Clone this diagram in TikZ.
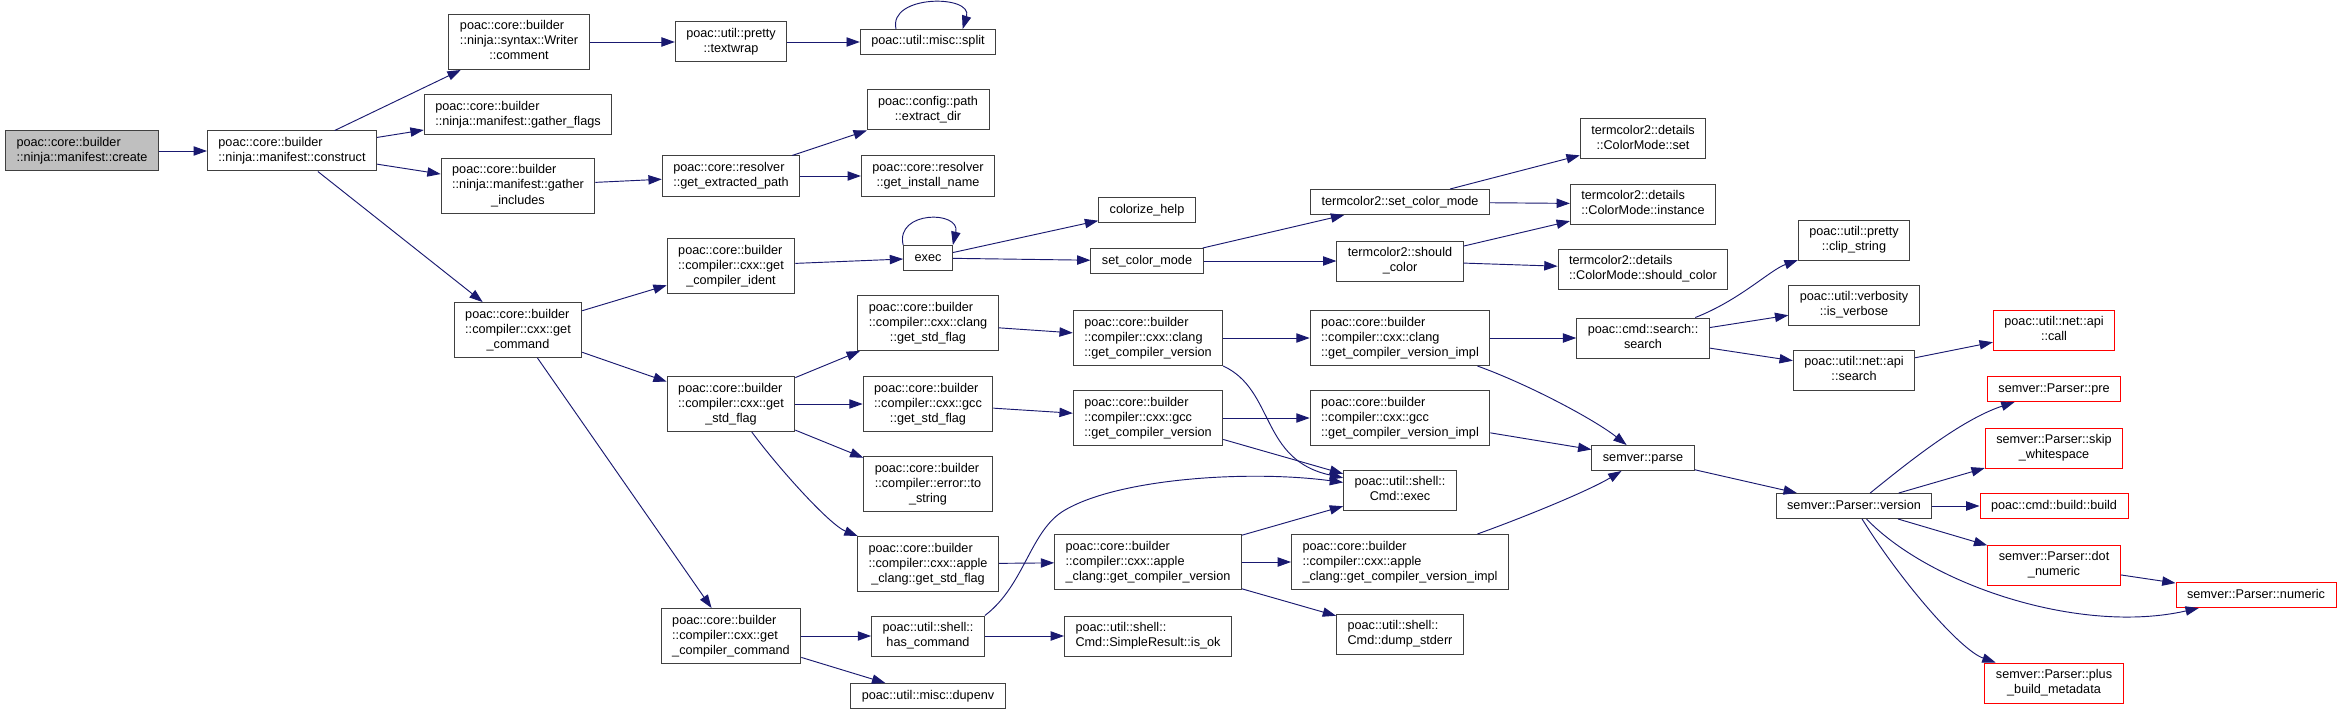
\documentclass[tikz,border=0pt]{standalone}
\usepackage{fontspec}
\setmainfont{Liberation Sans}
\usetikzlibrary{arrows.meta}
\definecolor{callblue}{HTML}{191970}
\definecolor{rim}{gray}{0.25}
\definecolor{rootfill}{gray}{0.75}
\definecolor{trunc}{HTML}{FF0000}
\newcommand{\fnlbl}[2]{\begin{tabular}{@{}l@{}}#1\\\multicolumn{1}{@{}c@{}}{#2}\end{tabular}}

\begin{document}
\begin{tikzpicture}[x=0.75pt,y=-0.75pt,
  fn/.style={draw=rim,fill=white,line width=0.75pt,inner xsep=8.25pt,inner ysep=3.75pt,font=\fontsize{9.5}{11.25}\selectfont,execute at begin node=\strut},
  root/.style={fn,fill=rootfill},
  cut/.style={fn,draw=trunc},
  call/.style={-{Triangle[length=10pt,width=7pt]},callblue,line width=0.7pt}
]
\fill[white] (0,0) rectangle (2343,713);
\useasboundingbox (0,0) rectangle (2343,713);
\node[root] (create) at (82,151) {\fnlbl{poac::core::builder}{::ninja::manifest::create}};
\node[fn] (construct) at (292,151) {\fnlbl{poac::core::builder}{::ninja::manifest::construct}};
\node[fn] (comment) at (519,42) {\fnlbl{poac::core::builder\\::ninja::syntax::Writer}{::comment}};
\node[fn] (gflags) at (518,115) {\fnlbl{poac::core::builder}{::ninja::manifest::gather\_flags}};
\node[fn] (gincl) at (518,186) {\fnlbl{poac::core::builder\\::ninja::manifest::gather}{\_includes}};
\node[fn] (getcmd) at (518,330) {\fnlbl{poac::core::builder\\::compiler::cxx::get}{\_command}};
\node[fn] (textwrap) at (731,42) {\fnlbl{poac::util::pretty}{::textwrap}};
\node[fn] (split) at (928,42) {poac::util::misc::split};
\node[fn] (extractdir) at (928,110) {\fnlbl{poac::config::path}{::extract\_dir}};
\node[fn] (getpath) at (731,176) {\fnlbl{poac::core::resolver}{::get\_extracted\_path}};
\node[fn] (instname) at (928,176) {\fnlbl{poac::core::resolver}{::get\_install\_name}};
\node[fn] (ident) at (731,266) {\fnlbl{poac::core::builder\\::compiler::cxx::get}{\_compiler\_ident}};
\node[fn] (exec) at (928,258) {exec};
\node[fn] (colorize) at (1147,210) {colorize\_help};
\node[fn] (setmode) at (1147,261) {set\_color\_mode};
\node[fn] (tcset) at (1400,202) {termcolor2::set\_color\_mode};
\node[fn] (tcshould) at (1400,261) {\fnlbl{termcolor2::should}{\_color}};
\node[fn] (cmset) at (1643,139) {\fnlbl{termcolor2::details}{::ColorMode::set}};
\node[fn] (cminst) at (1643,204) {\fnlbl{termcolor2::details}{::ColorMode::instance}};
\node[fn] (cmshould) at (1643,269) {\fnlbl{termcolor2::details}{::ColorMode::should\_color}};
\node[fn] (stdflag) at (731,404) {\fnlbl{poac::core::builder\\::compiler::cxx::get}{\_std\_flag}};
\node[fn] (clangflag) at (928,323) {\fnlbl{poac::core::builder\\::compiler::cxx::clang}{::get\_std\_flag}};
\node[fn] (gccflag) at (928,404) {\fnlbl{poac::core::builder\\::compiler::cxx::gcc}{::get\_std\_flag}};
\node[fn] (errstr) at (928,484) {\fnlbl{poac::core::builder\\::compiler::error::to}{\_string}};
\node[fn] (appleflag) at (928,564) {\fnlbl{poac::core::builder\\::compiler::cxx::apple}{\_clang::get\_std\_flag}};
\node[fn] (ccmd) at (731,636) {\fnlbl{poac::core::builder\\::compiler::cxx::get}{\_compiler\_command}};
\node[fn] (hascmd) at (928,636) {\fnlbl{poac::util::shell::}{has\_command}};
\node[fn] (dupenv) at (928,696) {poac::util::misc::dupenv};
\node[fn] (clangver) at (1148,338) {\fnlbl{poac::core::builder\\::compiler::cxx::clang}{::get\_compiler\_version}};
\node[fn] (gccver) at (1148,418) {\fnlbl{poac::core::builder\\::compiler::cxx::gcc}{::get\_compiler\_version}};
\node[fn] (applever) at (1148,562) {\fnlbl{poac::core::builder\\::compiler::cxx::apple}{\_clang::get\_compiler\_version}};
\node[fn] (isok) at (1148,636) {\fnlbl{poac::util::shell::}{Cmd::SimpleResult::is\_ok}};
\node[fn] (clangimpl) at (1400,338) {\fnlbl{poac::core::builder\\::compiler::cxx::clang}{::get\_compiler\_version\_impl}};
\node[fn] (gccimpl) at (1400,418) {\fnlbl{poac::core::builder\\::compiler::cxx::gcc}{::get\_compiler\_version\_impl}};
\node[fn] (applimpl) at (1400,562) {\fnlbl{poac::core::builder\\::compiler::cxx::apple}{\_clang::get\_compiler\_version\_impl}};
\node[fn] (cmdexec) at (1400,490) {\fnlbl{poac::util::shell::}{Cmd::exec}};
\node[fn] (dumperr) at (1400,634) {\fnlbl{poac::util::shell::}{Cmd::dump\_stderr}};
\node[fn] (search) at (1643,338) {\fnlbl{poac::cmd::search::}{search}};
\node[fn] (parse) at (1643,458) {semver::parse};
\node[fn] (clip) at (1854,240) {\fnlbl{poac::util::pretty}{::clip\_string}};
\node[fn] (verbose) at (1854,305) {\fnlbl{poac::util::verbosity}{::is\_verbose}};
\node[fn] (apisearch) at (1854,370) {\fnlbl{poac::util::net::api}{::search}};
\node[cut] (apicall) at (2054,330) {\fnlbl{poac::util::net::api}{::call}};
\node[fn] (version) at (1854,506) {semver::Parser::version};
\node[cut] (pre) at (2054,389) {semver::Parser::pre};
\node[cut] (skipws) at (2054,448) {\fnlbl{semver::Parser::skip}{\_whitespace}};
\node[cut] (build) at (2054,506) {poac::cmd::build::build};
\node[cut] (dotnum) at (2054,565) {\fnlbl{semver::Parser::dot}{\_numeric}};
\node[cut] (numeric) at (2256,595) {semver::Parser::numeric};
\node[cut] (plusmeta) at (2054,683) {\fnlbl{semver::Parser::plus}{\_build\_metadata}};
\draw[call] (create)--(construct);
\draw[call] (construct)--(comment); \draw[call] (construct)--(gflags); \draw[call] (construct)--(gincl); \draw[call] (construct)--(getcmd);
\draw[call] (comment)--(textwrap); \draw[call] (textwrap)--(split);
\draw[call] ([xshift=-24pt]split.north) .. controls +(-6pt,26pt) and +(8pt,26pt) .. ([xshift=26pt]split.north);
\draw[call] (gincl)--(getpath); \draw[call] (getpath)--(extractdir); \draw[call] (getpath)--(instname);
\draw[call] (getcmd)--(ident); \draw[call] (getcmd)--(stdflag); \draw[call] (getcmd)--(ccmd);
\draw[call] (ident)--(exec);
\draw[call] (exec.north west) .. controls +(-6pt,26pt) and +(6pt,26pt) .. (exec.north east);
\draw[call] (exec)--(colorize); \draw[call] (exec)--(setmode);
\draw[call] (setmode)--(tcset); \draw[call] (setmode)--(tcshould);
\draw[call] (tcset)--(cmset); \draw[call] (tcset)--(cminst);
\draw[call] (tcshould)--(cminst); \draw[call] (tcshould)--(cmshould);
\draw[call] (stdflag)--(clangflag); \draw[call] (stdflag)--(gccflag); \draw[call] (stdflag)--(errstr);
\draw[call] (stdflag) .. controls (780,470) and (830,525) .. (appleflag);
\draw[call] (ccmd)--(hascmd); \draw[call] (ccmd)--(dupenv); \draw[call] (hascmd)--(isok);
\draw[call] (hascmd.north east) .. controls (1025,585) and (1030,530) .. (1065,510) .. controls (1120,478) and (1250,470) .. (cmdexec);
\draw[call] (clangflag)--(clangver); \draw[call] (gccflag)--(gccver); \draw[call] (appleflag)--(applever);
\draw[call] (clangver)--(clangimpl); \draw[call] (gccver)--(gccimpl); \draw[call] (applever)--(applimpl);
\draw[call] (clangver.south east) .. controls (1275,390) and (1260,460) .. (cmdexec);
\draw[call] (gccver)--(cmdexec); \draw[call] (applever)--(cmdexec); \draw[call] (applever)--(dumperr);
\draw[call] (clangimpl)--(search);
\draw[call] (clangimpl) .. controls (1530,385) and (1595,420) .. (parse);
\draw[call] (gccimpl)--(parse);
\draw[call] (applimpl) .. controls (1530,515) and (1590,490) .. (parse);
\draw[call] (search) .. controls (1740,300) and (1770,270) .. (clip);
\draw[call] (search)--(verbose); \draw[call] (search)--(apisearch); \draw[call] (apisearch)--(apicall);
\draw[call] (parse)--(version);
\draw[call] (version) .. controls (1905,465) and (1960,420) .. (pre);
\draw[call] (version)--(skipws); \draw[call] (version)--(build); \draw[call] (version)--(dotnum);
\draw[call] (version) .. controls (1930,585) and (2080,635) .. (numeric);
\draw[call] (version) .. controls (1900,580) and (1960,650) .. (plusmeta);
\draw[call] (dotnum)--(numeric);
\end{tikzpicture}
\end{document}
